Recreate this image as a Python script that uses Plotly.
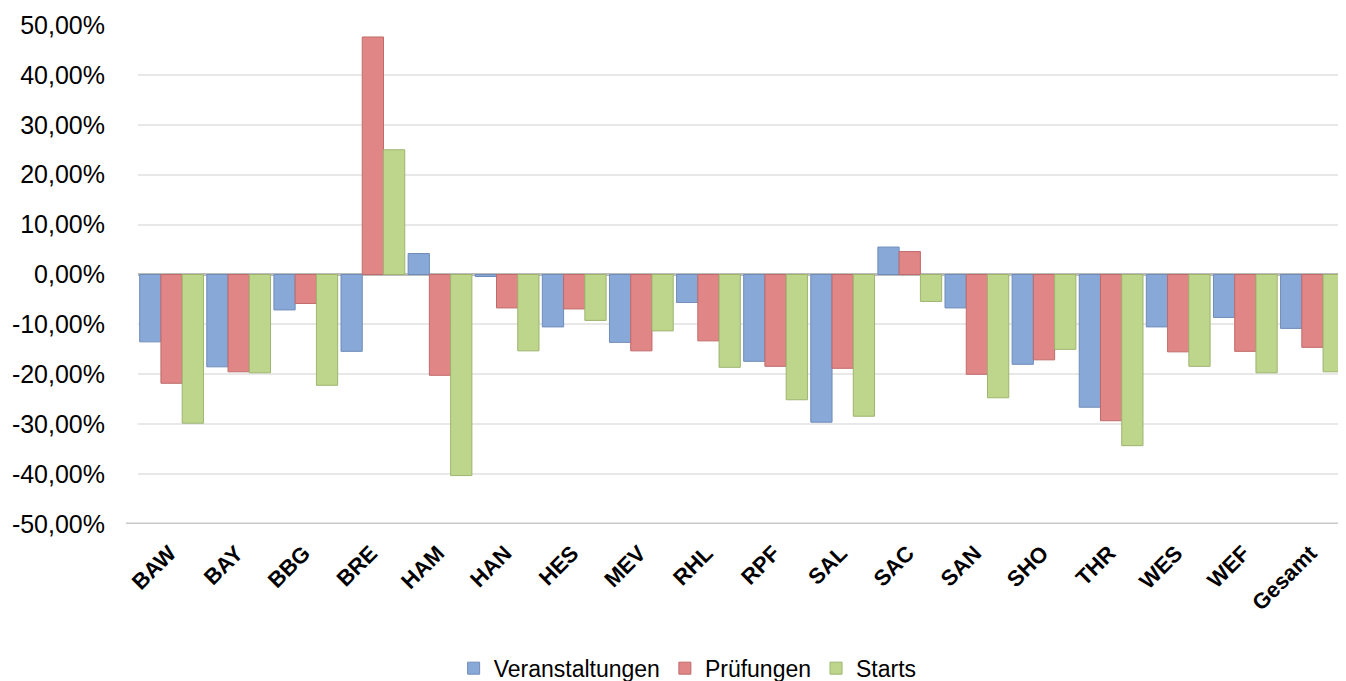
import plotly.graph_objects as go

categories = ["BAW", "BAY", "BBG", "BRE", "HAM", "HAN", "HES", "MEV", "RHL", "RPF",
              "SAL", "SAC", "SAN", "SHO", "THR", "WES", "WEF", "Gesamt"]
veranstaltungen = [-13.5, -18.5, -7.1, -15.4, 4.2, -0.4, -10.5, -13.6, -5.6, -17.4,
                   -29.6, 5.5, -6.7, -18.0, -26.6, -10.5, -8.6, -10.8]
pruefungen = [-21.8, -19.5, -5.8, 47.6, -20.2, -6.7, -6.9, -15.3, -13.3, -18.4,
              -18.8, 4.6, -20.0, -17.1, -29.3, -15.5, -15.4, -14.6]
starts = [-29.8, -19.7, -22.2, 25.0, -40.3, -15.3, -9.2, -11.3, -18.6, -25.1,
          -28.4, -5.4, -24.7, -15.0, -34.3, -18.4, -19.7, -19.5]
tick_vals = [50, 40, 30, 20, 10, 0, -10, -20, -30, -40, -50]
tick_text = ["50,00%", "40,00%", "30,00%", "20,00%", "10,00%", "0,00%",
             "-10,00%", "-20,00%", "-30,00%", "-40,00%", "-50,00%"]

series = [("Veranstaltungen", veranstaltungen, "#88a8d8", "#6f8cb8"),
          ("Prüfungen", pruefungen, "#e08686", "#c06a6a"),
          ("Starts", starts, "#bdd68b", "#9db470")]

fig = go.Figure()
for name, vals, col, edge in series:
    fig.add_trace(go.Bar(x=categories, y=vals, name=name,
                         marker=dict(color=col, line=dict(color=edge, width=1))))

fig.update_layout(
    width=1338, height=673,
    paper_bgcolor="white", plot_bgcolor="white",
    margin=dict(l=130, r=0, t=17, b=157, autoexpand=False),
    barmode="group", bargap=0.05, bargroupgap=0.0,
    font=dict(family="Liberation Sans, Arial, sans-serif", color="#000000"),
    showlegend=True,
    legend=dict(orientation="h", x=0.455, xanchor="center", y=-0.289, yanchor="middle",
                font=dict(size=23, color="#000000"), itemwidth=30,
                traceorder="normal"),
    xaxis=dict(tickangle=-45, tickfont=dict(size=22, family="Liberation Sans, Arial, sans-serif",
                                            weight="bold"),
               showgrid=False, zeroline=False, showline=False, ticks="",
               ticklabelstandoff=11, ticklabelshift=-2, automargin=False),
    yaxis=dict(range=[-50, 50], tickvals=tick_vals, ticktext=tick_text,
               tickfont=dict(size=25), showgrid=True, gridcolor="#e8e8e8", gridwidth=2,
               zeroline=True, zerolinecolor="#bcbcbc", zerolinewidth=3,
               showline=False, ticks="", ticklabelstandoff=32, automargin=False),
)
fig.add_shape(type="line", xref="paper", yref="y", x0=-0.01, x1=1, y0=-50, y1=-50,
              line=dict(color="#c8c8c8", width=3))

fig.write_html("out.html")
